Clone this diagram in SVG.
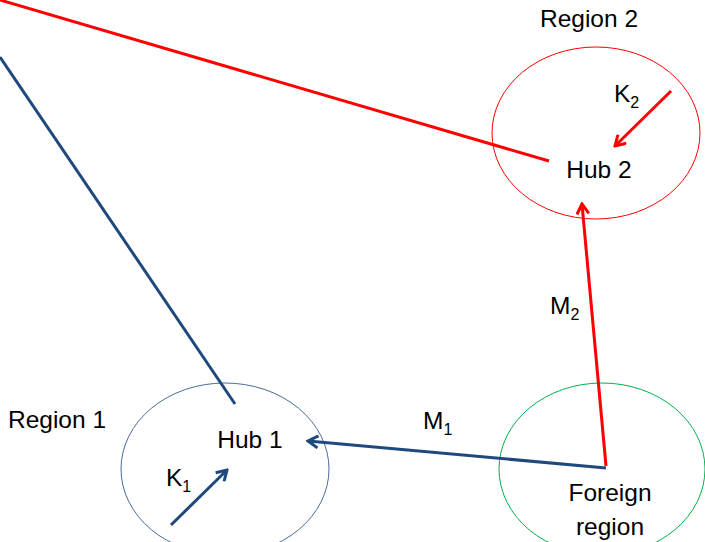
<svg xmlns="http://www.w3.org/2000/svg" width="705" height="542" viewBox="0 0 705 542">
<style>
text{font-family:"Liberation Sans","Open Sans",sans-serif;font-size:24.5px;fill:#000}
.sub{font-size:16px}
.region{fill:none;stroke-width:1}
.red{stroke:#FF0000;stroke-width:3;fill:none}
.blue{stroke:#1F497D;stroke-width:3;fill:none}
</style>
<defs>
<marker id="ar" viewBox="-12 -7 14 14" markerWidth="14" markerHeight="14" refX="0" refY="0" orient="auto" markerUnits="userSpaceOnUse">
<path d="M-10,-6 L0,0 L-10,6" fill="none" stroke="#FF0000" stroke-width="3"/>
</marker>
<marker id="ab" viewBox="-12 -7 14 14" markerWidth="14" markerHeight="14" refX="0" refY="0" orient="auto" markerUnits="userSpaceOnUse">
<path d="M-10,-6 L0,0 L-10,6" fill="none" stroke="#1F497D" stroke-width="3"/>
</marker>
</defs>
<g id="region2">
<ellipse class="region" cx="596" cy="133" rx="104" ry="86" stroke="#FF0000"/>
<text x="589" y="27" text-anchor="middle">Region 2</text>
<text x="599" y="178" text-anchor="middle">Hub 2</text>
</g>
<g id="region1">
<ellipse class="region" cx="225" cy="469" rx="104" ry="86" stroke="#4A6C9B"/>
<text x="57" y="428" text-anchor="middle">Region 1</text>
<text x="250" y="448" text-anchor="middle">Hub 1</text>
</g>
<g id="foreign">
<ellipse class="region" cx="602" cy="469" rx="103" ry="86" stroke="#00B050"/>
<text x="610" y="501" text-anchor="middle">Foreign</text>
<text x="610" y="535" text-anchor="middle">region</text>
</g>
<g id="connectors">
<line class="red" x1="0" y1="0" x2="549" y2="161"/>
<line class="blue" x1="0" y1="57" x2="235" y2="404"/>
<line class="red" x1="671" y1="91" x2="615" y2="146" marker-end="url(#ar)"/>
<line class="blue" x1="171" y1="525" x2="227" y2="470" marker-end="url(#ab)"/>
<line class="blue" x1="606" y1="468" x2="308" y2="441" marker-end="url(#ab)"/>
<line class="red" x1="606" y1="466" x2="582" y2="204" marker-end="url(#ar)"/>
</g>
<g id="labels">
<text x="614" y="102">K<tspan class="sub" dy="6">2</tspan></text>
<text x="166" y="486">K<tspan class="sub" dy="6">1</tspan></text>
<text x="423" y="429">M<tspan class="sub" dy="6">1</tspan></text>
<text x="550" y="314">M<tspan class="sub" dy="6">2</tspan></text>
</g>
</svg>
